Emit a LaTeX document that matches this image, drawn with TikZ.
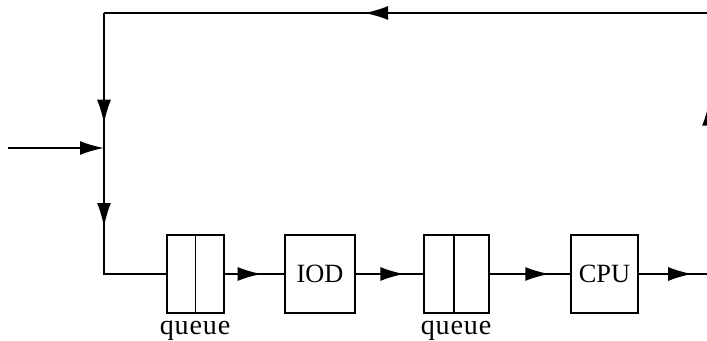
\documentclass[tikz,border=0pt]{standalone}
\usepackage{fontspec}
\setmainfont{Liberation Serif}
\usetikzlibrary{positioning,arrows.meta,decorations.markings}

\tikzset{
  flow/.style={line width=1pt},
  midarrow/.style={flow, postaction=decorate,
    decoration={markings, mark=at position #1 with {\arrow{Latex[length=4.8mm,width=2.8mm]}}}},
  unit/.style={draw, line width=1pt, minimum height=1.56cm, inner sep=0pt,
    font=\fontsize{15}{18}\selectfont},
  qlabel/.style={font=\fontsize{16}{19}\selectfont\addfontfeature{LetterSpace=3}, inner sep=0pt, anchor=base}
}

\begin{document}
\begin{tikzpicture}[x=0.02cm, y=-0.02cm]
    \useasboundingbox (0,0) rectangle (707,341);
    \clip (0,0) rectangle (707,341);

    % Stations on the bottom row
    \node[unit, minimum width=1.14cm] (q1) at (195.5,274) {};
    \node[unit, minimum width=1.4cm] (iod) at (320,274) {IOD};
    \node[unit, minimum width=1.3cm] (q2) at (456.5,274) {};
    \node[unit, minimum width=1.34cm] (cpu) at (604.5,274) {CPU};

    % queue dividers and labels
    \draw[flow] (q1.north) -- (q1.south);
    \draw[flow] ([xshift=-0.05cm]q2.north) -- ([xshift=-0.05cm]q2.south);
    \node[qlabel] (q1lab) at (195,334) {queue};
    \node[qlabel] (q2lab) at (456,334) {queue};

    % Corners of the loop
    \coordinate (tl) at (104,13);
    \coordinate (tr) at (709,13);
    \coordinate (join) at (104,148);
    \coordinate (bl) at (104,274);
    \coordinate (br) at (709,274);
    \coordinate (in) at (8,148);

    % Feedback loop
    \draw[midarrow=0.57] (tr) -- (tl);
    \draw[midarrow=0.82] (tl) -- (join);
    \draw[flow, -{Latex[length=4.8mm,width=2.8mm]}] (in) -- (join);
    \draw[midarrow=0.42] (join) -- (bl) -- (q1.west);

    % Forward path
    \draw[midarrow=0.62] (q1.east) -- (iod.west);
    \draw[midarrow=0.72] (iod.east) -- (q2.west);
    \draw[midarrow=0.74] (q2.east) -- (cpu.west);
    \draw[midarrow=0.76] (cpu.east) -- (br);
    \draw[midarrow=0.66] (br) -- (tr);
\end{tikzpicture}
\end{document}
